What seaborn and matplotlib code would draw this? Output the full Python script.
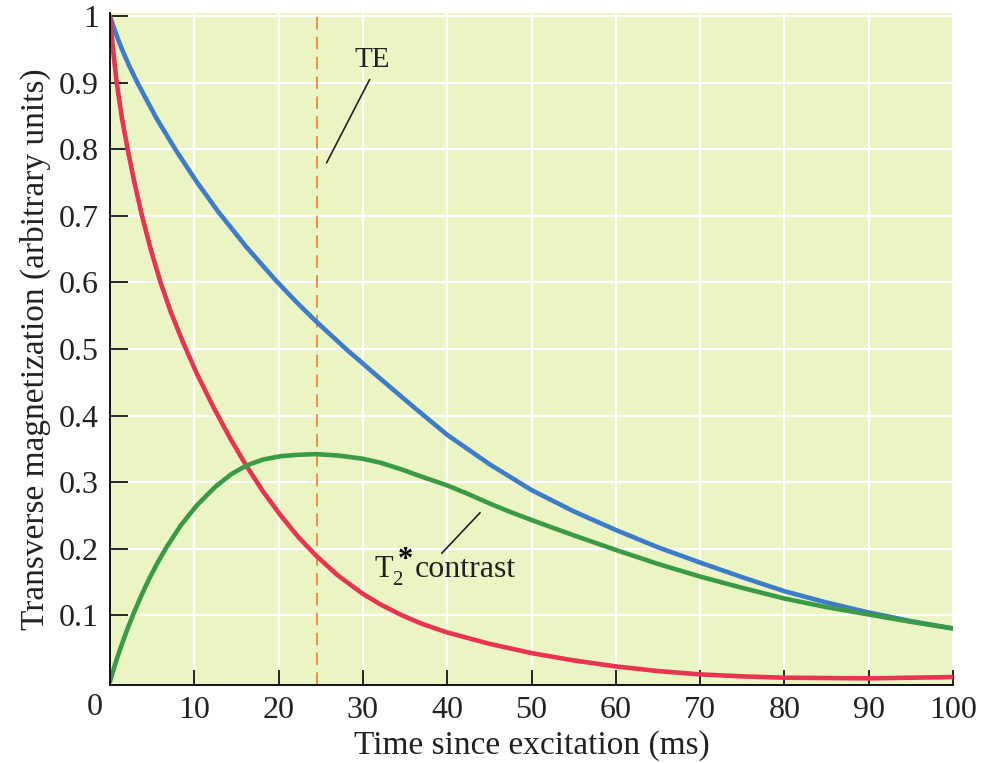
import matplotlib
matplotlib.use("Agg")
import matplotlib.pyplot as plt
import seaborn as sns

# Values: time (ms) and transverse magnetization (arbitrary units)
t_blue = [0, 0.7, 1.4, 2.3, 3.3, 5.5, 7.9, 10.3, 12.8, 16.2, 19.6, 22, 24.4, 28, 32.1,
          36, 40, 45, 50, 55, 60, 65, 70, 75, 80, 85, 90, 95, 100]
m_blue = [1.0, 0.974, 0.951, 0.925, 0.899, 0.847, 0.797, 0.751, 0.707, 0.653, 0.604,
          0.572, 0.542, 0.500, 0.455, 0.413, 0.371, 0.327, 0.288, 0.256, 0.228, 0.202,
          0.179, 0.157, 0.136, 0.119, 0.104, 0.091, 0.080]

t_red = [0, 0.35, 0.8, 1.4, 2.1, 2.9, 3.8, 4.85, 6.0, 7.2, 8.6, 10.3, 12.3, 14.2, 16.2,
         18.2, 20.3, 22.3, 24.4, 27, 30, 32.1, 34.6, 37, 40, 45, 50, 55, 60, 65, 70,
         75, 80, 90, 100]
m_red = [1.0, 0.951, 0.900, 0.848, 0.800, 0.750, 0.700, 0.649, 0.600, 0.556, 0.512,
         0.463, 0.412, 0.367, 0.324, 0.285, 0.249, 0.218, 0.190, 0.160, 0.132, 0.116,
         0.100, 0.087, 0.074, 0.057, 0.043, 0.032, 0.023, 0.016, 0.011, 0.008, 0.006,
         0.005, 0.007]

t_green = [0, 0.6, 1.2, 2.0, 2.75, 3.7, 4.7, 5.7, 6.7, 8.4, 10.3, 12.5, 14.4, 16.2, 18.2,
           20.3, 22.3, 24.4, 27, 30, 32.1, 34.6, 37, 40, 42.5, 45, 47.5, 50, 55, 60, 65,
           70, 75, 80, 85, 90, 95, 100]
m_green = [0.0, 0.026, 0.049, 0.077, 0.101, 0.129, 0.156, 0.180, 0.202, 0.235, 0.265,
           0.293, 0.312, 0.325, 0.334, 0.339, 0.341, 0.342, 0.340, 0.335, 0.329, 0.319,
           0.308, 0.295, 0.282, 0.268, 0.255, 0.243, 0.220, 0.198, 0.177, 0.158, 0.141,
           0.125, 0.112, 0.101, 0.090, 0.080]

te = 24.5
x_ticks = [10, 20, 30, 40, 50, 60, 70, 80, 90, 100]
y_ticks = [0.1, 0.2, 0.3, 0.4, 0.5, 0.6, 0.7, 0.8, 0.9, 1.0]
y_labels = ["0.1", "0.2", "0.3", "0.4", "0.5", "0.6", "0.7", "0.8", "0.9", "1"]

sns.set_theme(style="ticks")
plt.rcParams['font.family'] = ['Liberation Serif', 'DejaVu Serif']

ink = '#222222'
fig = plt.figure(figsize=(9.83, 7.63), dpi=100)
ax = fig.add_axes([0.1119, 0.1022, 0.8576, 0.8808])
ax.set_facecolor('#ebf5c4')

ax.set_xticks(x_ticks)
ax.set_yticks(y_ticks)
ax.set_yticklabels(y_labels)
ax.grid(True, color='white', linewidth=1.6)
ax.set_axisbelow(True)

sns.lineplot(x=t_blue, y=m_blue, ax=ax, color='#3d7cc9', linewidth=3.3)
sns.lineplot(x=t_red, y=m_red, ax=ax, color='#e8354f', linewidth=3.3)
sns.lineplot(x=t_green, y=m_green, ax=ax, color='#3b9a46', linewidth=3.3)
for ln in ax.get_lines():
    ln.set_solid_joinstyle('round')
    ln.set_solid_capstyle('round')
ax.axvline(te, color='#f0883c', linewidth=1.3, linestyle=(0, (7, 4)), zorder=1.5)

ax.set_xlim(0, 100)
ax.set_ylim(-0.005, 1.005)

for s in ['top', 'right']:
    ax.spines[s].set_visible(False)
for s in ['left', 'bottom']:
    ax.spines[s].set_color('black')
    ax.spines[s].set_linewidth(1.3)

ax.tick_params(axis='y', direction='in', length=13, width=1.2, color='black',
               labelsize=23, pad=8, labelcolor=ink)
ax.tick_params(axis='x', direction='in', length=11, width=1.2, color='black',
               labelsize=23, pad=8, labelcolor=ink)

# the shared origin label sits left of the axis corner
ax.text(-1.8, -0.0395, "0", fontsize=23, color=ink, ha='center', va='center')

ax.set_xlabel("Time since excitation (ms)", fontsize=24, color=ink, labelpad=4)
ax.set_ylabel("Transverse magnetization (arbitrary units)", fontsize=24,
              color=ink, labelpad=6)

# annotations
ax.text(31.1, 0.935, "TE", fontsize=21, color=ink, ha='center', va='center')
ax.plot([30.8, 25.7], [0.905, 0.78], color=ink, linewidth=1.2)

lx, ly = 31.4, 0.158
ax.annotate("T", (lx, ly), xytext=(0, 0), textcoords='offset pixels', fontsize=22,
            color=ink, ha='left', va='baseline')
ax.annotate("2", (lx, ly), xytext=(17, -8), textcoords='offset pixels', fontsize=15,
            color=ink, ha='left', va='baseline')
ax.annotate("*", (lx, ly), xytext=(31, 9), textcoords='offset pixels', fontsize=22,
            fontweight='bold', color='black', ha='center', va='baseline')
ax.annotate("contrast", (lx, ly), xytext=(40, 0), textcoords='offset pixels',
            fontsize=23, color=ink, ha='left', va='baseline')
ax.plot([39.35, 43.9], [0.193, 0.254], color=ink, linewidth=1.2)

fig.savefig("out.png", dpi=100)
